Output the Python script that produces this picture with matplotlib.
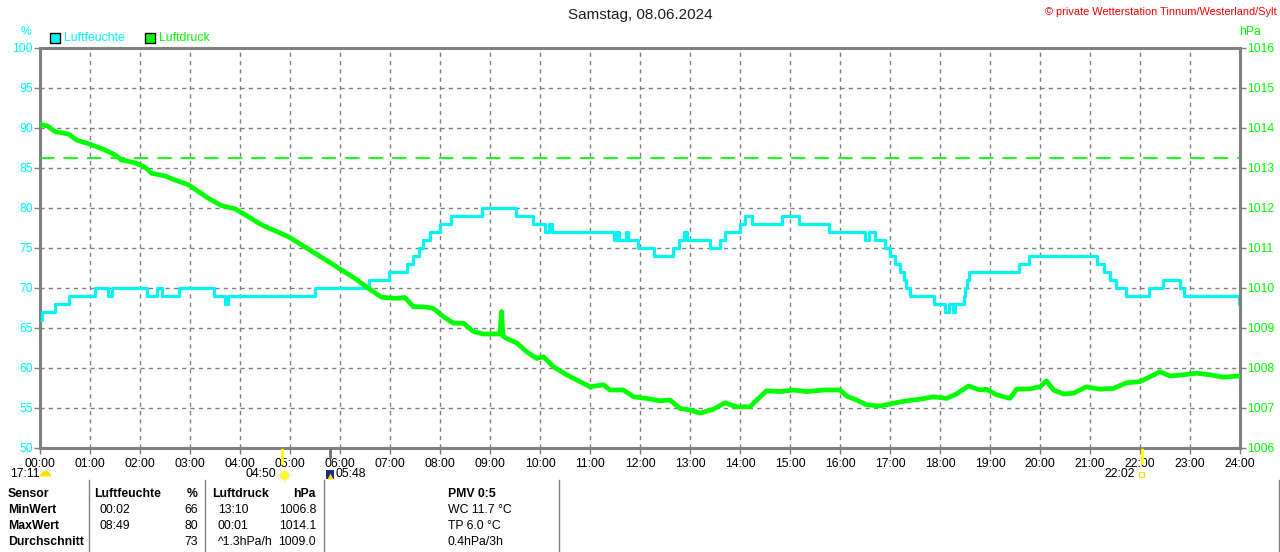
import matplotlib
matplotlib.use("Agg")
import matplotlib.pyplot as plt
import matplotlib.transforms as mtransforms

plt.rcParams['font.family'] = ['Liberation Sans', 'DejaVu Sans']

# ---------------- data ----------------
hum_t = [0.0, 0.03, 0.3, 0.57, 1.1, 1.36, 1.44, 2.13, 2.33, 2.43, 2.77, 3.47, 3.7, 3.76,
         5.5, 6.57, 6.97, 7.33, 7.45, 7.57, 7.65, 7.79, 7.99, 8.21, 8.83, 9.52, 9.85,
         10.1, 10.18, 10.23, 11.47, 11.53, 11.57, 11.71, 11.75, 11.95, 12.27, 12.33,
         12.65, 12.77, 12.87, 12.93, 13.4, 13.59, 13.7, 13.99, 14.1, 14.23, 14.83,
         15.17, 15.77, 16.5, 16.57, 16.7, 16.9, 17.0, 17.1, 17.19, 17.27, 17.33, 17.4,
         17.87, 18.1, 18.17, 18.25, 18.3, 18.47, 18.5, 18.53, 18.57, 19.57, 19.77,
         21.13, 21.27, 21.4, 21.52, 21.72, 22.17, 22.45, 22.8, 22.87, 23.97, 24.0]
hum_v = [66, 67, 68, 69, 70, 69, 70, 69, 70, 69, 70, 69, 68, 69,
         70, 71, 72, 73, 74, 75, 76, 77, 78, 79, 80, 79, 78,
         77, 78, 77, 76, 77, 76, 77, 76, 75, 74, 74,
         75, 76, 77, 76, 75, 76, 77, 78, 79, 78, 79,
         78, 77, 76, 77, 76, 75, 74, 73, 72, 71, 70, 69,
         68, 67, 68, 67, 68, 69, 70, 71, 72, 73, 74,
         73, 72, 71, 70, 69, 70, 71, 70, 69, 68, 68]

pres_t = [0.0, 0.03, 0.15, 0.3, 0.57, 0.73, 1.03, 1.3, 1.5, 1.63, 1.9, 2.1, 2.23, 2.5,
          2.7, 2.97, 3.17, 3.37, 3.63, 3.9, 4.17, 4.43, 4.7, 4.97, 5.23, 5.5, 5.77,
          6.03, 6.3, 6.57, 6.83, 7.1, 7.3, 7.47, 7.67, 7.87, 8.07, 8.27, 8.47, 8.67,
          8.87, 9.13, 9.2, 9.23, 9.26, 9.33, 9.53, 9.73, 9.93, 10.07, 10.27, 10.53,
          10.8, 11.0, 11.27, 11.4, 11.67, 11.87, 12.13, 12.4, 12.6, 12.8, 13.0, 13.2,
          13.47, 13.7, 13.93, 14.2, 14.37, 14.53, 14.8, 15.07, 15.33, 15.67, 16.0,
          16.13, 16.33, 16.53, 16.8, 17.07, 17.33, 17.6, 17.87, 18.13, 18.33, 18.57,
          18.8, 18.93, 19.13, 19.4, 19.53, 19.8, 20.0, 20.13, 20.27, 20.47, 20.67,
          20.93, 21.2, 21.47, 21.73, 22.0, 22.2, 22.4, 22.6, 22.87, 23.13, 23.4,
          23.67, 23.97]
pres_v = [1014.1, 1014.08, 1014.05, 1013.91, 1013.85, 1013.7, 1013.58, 1013.45, 1013.33,
          1013.2, 1013.13, 1013.02, 1012.87, 1012.8, 1012.7, 1012.58, 1012.41, 1012.24,
          1012.06, 1011.98, 1011.78, 1011.58, 1011.43, 1011.28, 1011.08, 1010.87,
          1010.66, 1010.45, 1010.24, 1009.99, 1009.77, 1009.74, 1009.76, 1009.53,
          1009.53, 1009.49, 1009.28, 1009.12, 1009.12, 1008.91, 1008.85, 1008.85,
          1008.85, 1009.41, 1008.8, 1008.74, 1008.63, 1008.41, 1008.24, 1008.28,
          1008.03, 1007.83, 1007.66, 1007.53, 1007.58, 1007.45, 1007.45, 1007.28,
          1007.24, 1007.18, 1007.2, 1006.99, 1006.95, 1006.87, 1006.97, 1007.13,
          1007.03, 1007.03, 1007.24, 1007.43, 1007.41, 1007.45, 1007.41, 1007.45,
          1007.45, 1007.3, 1007.2, 1007.08, 1007.05, 1007.12, 1007.18, 1007.22,
          1007.28, 1007.24, 1007.35, 1007.55, 1007.45, 1007.47, 1007.33, 1007.24,
          1007.47, 1007.48, 1007.53, 1007.68, 1007.45, 1007.35, 1007.37, 1007.53,
          1007.47, 1007.49, 1007.63, 1007.66, 1007.78, 1007.91, 1007.8, 1007.83,
          1007.87, 1007.83, 1007.77, 1007.8]

pres_ref = 1013.25
hour_labels = ["%02d:00" % h for h in range(25)]
hum_ticks = [50, 55, 60, 65, 70, 75, 80, 85, 90, 95, 100]
pres_ticks = list(range(1006, 1017))

title = "Samstag, 08.06.2024"
credit = "\u00a9 private Wetterstation Tinnum/Westerland/Sylt"

table_rows = [
    ["Sensor", "Luftfeuchte", "%", "Luftdruck", "hPa", "PMV 0:5"],
    ["MinWert", "00:02", "66", "13:10", "1006.8", "WC 11.7 \u00b0C"],
    ["MaxWert", "08:49", "80", "00:01", "1014.1", "TP 6.0 \u00b0C"],
    ["Durchschnitt", "", "73", "^1.3hPa/h", "1009.0", "0.4hPa/3h"],
]
sun_events = [(4.8333, "04:50"), (5.8, "05:48"), (22.0333, "22:02")]

# ---------------- figure ----------------
W, H = 1280, 552
fig = plt.figure(figsize=(W / 100, H / 100), dpi=100)
fig.patch.set_facecolor("white")

def fx(x):
    return x / W

def fy(y):
    return 1 - y / H

ax = fig.add_axes([fx(40), fy(448), 1200 / W, 400 / H])
ax2 = ax.twinx()

CYAN = "#00F6F6"
GREEN = "#00FF00"
GRAY = "#808080"

ax.set_xlim(0, 24)
ax.set_ylim(50, 100)
ax2.set_ylim(1006, 1016)

ax.set_xticks(range(25))
ax.set_xticklabels(hour_labels, fontsize=8.8, color="black")
ax.set_yticks(hum_ticks)
ax.set_yticklabels([str(v) for v in hum_ticks], fontsize=8.8, color=CYAN)
ax2.set_yticks(pres_ticks)
ax2.set_yticklabels([str(v) for v in pres_ticks], fontsize=8.8, color=GREEN)

ax.tick_params(axis="x", length=4, width=1, color=GRAY, pad=3)
ax.tick_params(axis="y", length=4, width=1, color=GRAY, pad=1)
ax2.tick_params(axis="y", length=4, width=1, color=GRAY, pad=1)

ax.grid(True, color=GRAY, linestyle=(0, (3, 3)), linewidth=1)
ax.set_axisbelow(True)

for a in (ax, ax2):
    for s in a.spines.values():
        s.set_color(GRAY)
        s.set_linewidth(1.2)
ax.spines["left"].set_linewidth(2.2)
ax.spines["bottom"].set_linewidth(2.2)
ax2.spines["right"].set_linewidth(2.2)
ax2.spines["top"].set_linewidth(2.2)

ax.step(hum_t, hum_v, where="post", color=CYAN, linewidth=2.3, zorder=3)
ax2.axhline(pres_ref, color=GREEN, linestyle=(0, (8, 5)), linewidth=1.3, zorder=2)
ax2.plot(pres_t, pres_v, color=GREEN, linewidth=3.4, zorder=4)
ax2.patch.set_visible(False)

# sun / moon markers below the axis
trans = mtransforms.blended_transform_factory(ax.transData, ax.transAxes)
for (t, lab), col in zip(sun_events, ["#FFFF00", "#707070", "#FFFF00"]):
    ax.plot([t, t], [0.0, -0.038 if col != "#707070" else -0.022], color=col,
            linewidth=2, transform=trans, clip_on=False, zorder=5)

def fig_marker(x, y, **kw):
    fig.add_artist(plt.Line2D([fx(x)], [fy(y)], transform=fig.transFigure,
                              linestyle="none", **kw))

fig.text(fx(10), fy(474), "17:11", fontsize=8.8, va="center", ha="left")
fig_marker(45, 476, marker="o", markersize=8, fillstyle="top",
           markerfacecolor="#FFE000", markerfacecoloralt="none", markeredgecolor="none")
fig.text(fx(276), fy(474), "04:50", fontsize=8.8, va="center", ha="right")
fig_marker(284, 475, marker="+", markersize=11, markeredgecolor="#FFF3A0",
           markeredgewidth=1)
fig_marker(284, 475, marker="o", markersize=6, markerfacecolor="#FFFF00",
           markeredgecolor="#FFE98A", markeredgewidth=1.2)
fig.patches.append(plt.Rectangle((fx(326), fy(479)), 8 / W, 9 / H, transform=fig.transFigure,
                                 facecolor="#1a2a8a", edgecolor="none"))
fig_marker(330, 476, marker="^", markersize=4, markerfacecolor="#FFE000",
           markeredgecolor="none")
fig.text(fx(335), fy(474), "05:48", fontsize=8.8, va="center", ha="left")
fig.text(fx(1135), fy(474), "22:02", fontsize=8.8, va="center", ha="right")
fig.patches.append(plt.Rectangle((fx(1139), fy(477)), 5 / W, 5 / H, transform=fig.transFigure,
                                 facecolor="none", edgecolor="#FFE000", linewidth=0.8))

# title and credits
fig.text(0.5, fy(15), title, fontsize=11, ha="center", va="center", color="#202020")
fig.text(fx(1277), fy(12), credit, fontsize=7.9, ha="right", va="center", color="#FF0000")

# axis unit labels and legend
fig.text(fx(26), fy(32), "%", fontsize=8.8, ha="center", va="center", color=CYAN)
fig.text(fx(1250), fy(32), "hPa", fontsize=8.8, ha="center", va="center", color=GREEN)
fig.patches.append(plt.Rectangle((fx(50), fy(43)), 10 / W, 10 / H, transform=fig.transFigure,
                                 facecolor=CYAN, edgecolor="black", linewidth=1))
fig.text(fx(64), fy(38), "Luftfeuchte", fontsize=8.8, ha="left", va="center", color=CYAN)
fig.patches.append(plt.Rectangle((fx(145), fy(43)), 10 / W, 10 / H, transform=fig.transFigure,
                                 facecolor=GREEN, edgecolor="black", linewidth=1))
fig.text(fx(159), fy(38), "Luftdruck", fontsize=8.8, ha="left", va="center", color=GREEN)

# table
row_y = [494, 510, 526, 542]
col_x = [8, 100, 198, 218, 316, 448]
col_ha = ["left", "left", "right", "left", "right", "left"]
for r, row in enumerate(table_rows):
    for c, txt in enumerate(row):
        bold = (r == 0) or (c == 0)
        x = col_x[c]
        if r == 0 and c == 1:
            x = 94
        if r == 0 and c == 3:
            x = 212
        fig.text(fx(x), fy(row_y[r]), txt, fontsize=8.8, ha=col_ha[c], va="center",
                 fontweight="bold" if bold else "normal", color="black")

for xv in [89, 205, 324, 559, 1279]:
    fig.add_artist(plt.Line2D([fx(xv), fx(xv)], [fy(480), fy(552)], color=GRAY,
                              linewidth=1, transform=fig.transFigure))

fig.savefig("out.png", dpi=100, facecolor="white")
